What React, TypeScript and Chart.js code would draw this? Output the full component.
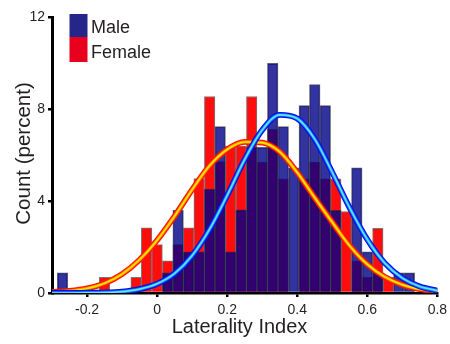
import React, { useEffect, useRef } from 'react';
import { Chart, registerables } from 'chart.js';

Chart.register(...registerables);

// Histogram bins (bin width 0.03), values in percent
const binCenters = [
  -0.27, -0.24, -0.21, -0.18, -0.15, -0.12, -0.09, -0.06, -0.03, 0,
  0.03, 0.06, 0.09, 0.12, 0.15, 0.18, 0.21, 0.24, 0.27, 0.3,
  0.33, 0.36, 0.39, 0.42, 0.45, 0.48, 0.51, 0.54, 0.57, 0.6,
  0.63, 0.66, 0.69, 0.72,
];
const maleValues = [
  0.88, 0, 0, 0, 0, 0, 0, 0, 0, 0,
  0.88, 3.6, 1.79, 1.79, 4.53, 7.25, 1.79, 3.62, 6.35, 6.35,
  10.0, 7.25, 5.45, 8.16, 9.08, 8.16, 3.6, 0, 5.45, 1.79,
  0.88, 0, 0.88, 0.88,
];
const femaleValues = [
  0, 0, 0, 0, 0.68, 0, 0, 0.68, 2.84, 2.11,
  1.4, 2.11, 2.84, 4.98, 8.56, 5.72, 6.4, 6.4, 8.56, 5.7,
  7.13, 4.97, 0, 4.97, 5.7, 4.97, 4.97, 3.55, 1.4, 0.68,
  2.82, 0.68, 0, 0,
];

// Fitted curves, every 0.05
const curveX = [
  -0.3, -0.25, -0.2, -0.15, -0.1, -0.05, 0, 0.05, 0.1, 0.15, 0.2, 0.25,
  0.3, 0.35, 0.4, 0.45, 0.5, 0.55, 0.6, 0.65, 0.7, 0.75, 0.8,
];
const maleFit = [
  0, 0, 0.01, 0.02, 0.06, 0.17, 0.4, 0.85, 1.63, 2.78, 4.25, 5.82,
  7.1, 7.76, 7.6, 6.7, 5.25, 3.7, 2.33, 1.3, 0.65, 0.28, 0.11,
];
const femaleFit = [
  0.04, 0.09, 0.2, 0.42, 0.82, 1.45, 2.3, 3.35, 4.5, 5.55, 6.25, 6.58,
  6.55, 6.15, 5.25, 4.15, 3.08, 2.05, 1.25, 0.7, 0.36, 0.17, 0.08,
];

const xTicks = [-0.2, 0, 0.2, 0.4, 0.6, 0.8];
const yTicks = [0, 4, 8, 12];
const legendLabels = ['Male', 'Female'];
const xTitle = 'Laterality Index';
const yTitle = 'Count (percent)';

const FONT = '"Liberation Sans", Arial, Helvetica, sans-serif';
const TEXT = '#231f20';
const MALE_BAR = 'rgba(0,0,136,0.8)';
const FEMALE_BAR = 'rgb(255,12,12)';

const barPoints = (vals: number[]) =>
  binCenters
    .map((x, i) => ({ x, y: vals[i] }))
    .filter((p) => p.y > 0);
const curvePoints = (vals: number[]) => curveX.map((x, i) => ({ x, y: vals[i] }));

const textPlugin = {
  id: 'texts',
  afterDraw(chart: any) {
    const ctx = chart.ctx as CanvasRenderingContext2D;
    ctx.save();
    // legend
    ctx.fillStyle = '#26268a';
    ctx.fillRect(69.5, 14, 18, 23);
    ctx.fillStyle = '#e8001c';
    ctx.fillRect(69.5, 37, 18, 25);
    ctx.fillStyle = TEXT;
    ctx.font = `18px ${FONT}`;
    ctx.textAlign = 'left';
    ctx.textBaseline = 'alphabetic';
    ctx.fillText(legendLabels[0], 91, 32.5);
    ctx.fillText(legendLabels[1], 91, 57.5);
    // axis titles
    ctx.font = `20px ${FONT}`;
    ctx.textAlign = 'center';
    ctx.fillText(xTitle, 239.5, 333.3);
    ctx.translate(30, 153.5);
    ctx.rotate(-Math.PI / 2);
    ctx.font = `20.5px ${FONT}`;
    ctx.fillText(yTitle, 0, 0);
    ctx.restore();
  },
};

export default function App() {
  const ref = useRef<HTMLCanvasElement | null>(null);
  useEffect(() => {
    if (!ref.current) return;
    const chart = new Chart(ref.current, {
      type: 'bar',
      data: {
        datasets: [
          { type: 'line', data: curvePoints(maleFit), borderColor: '#5be8ff', borderWidth: 1.6, pointRadius: 0, cubicInterpolationMode: 'monotone', order: 0 } as any,
          { type: 'line', data: curvePoints(maleFit), borderColor: '#1f78ff', borderWidth: 3.4, pointRadius: 0, cubicInterpolationMode: 'monotone', order: 1 } as any,
          { type: 'line', data: curvePoints(maleFit), borderColor: '#0610e6', borderWidth: 5.8, pointRadius: 0, cubicInterpolationMode: 'monotone', order: 2 } as any,
          { type: 'line', data: curvePoints(femaleFit), borderColor: '#ffe600', borderWidth: 1.6, pointRadius: 0, cubicInterpolationMode: 'monotone', order: 3 } as any,
          { type: 'line', data: curvePoints(femaleFit), borderColor: '#ff8a00', borderWidth: 3.2, pointRadius: 0, cubicInterpolationMode: 'monotone', order: 4 } as any,
          { type: 'line', data: curvePoints(femaleFit), borderColor: '#ff1500', borderWidth: 5.8, pointRadius: 0, cubicInterpolationMode: 'monotone', order: 5 } as any,
          { type: 'bar', data: barPoints(maleValues), backgroundColor: MALE_BAR, borderColor: 'rgba(40,40,60,0.75)', borderWidth: 1, barPercentage: 1, categoryPercentage: 1, grouped: false, order: 6 } as any,
          { type: 'bar', data: barPoints(femaleValues), backgroundColor: FEMALE_BAR, borderColor: 'rgba(120,120,120,1)', borderWidth: 1, barPercentage: 1, categoryPercentage: 1, grouped: false, order: 7 } as any,
        ],
      },
      options: {
        animation: false,
        responsive: false,
        devicePixelRatio: 1,
        layout: { padding: { top: 17.5, left: 0, right: 0, bottom: 0 } },
        plugins: { legend: { display: false }, tooltip: { enabled: false }, title: { display: false } },
        scales: {
          x: {
            type: 'linear',
            min: -0.3,
            max: 0.8,
            offset: false,
            afterBuildTicks: (s: any) => { s.ticks = xTicks.map((v) => ({ value: v })); },
            afterFit: (s: any) => { s.height = 51; s.paddingLeft = 0; s.paddingRight = 12.6; },
            ticks: {
              autoSkip: false,
              maxRotation: 0,
              padding: 5,
              color: TEXT,
              font: { family: FONT, size: 14 },
              callback: (v: any) => String(Number(v)),
            },
            grid: { display: true, drawOnChartArea: false, drawTicks: true, tickLength: 4, color: '#000', lineWidth: 2.5, offset: false },
            border: { display: true, color: '#000', width: 2.5 },
          },
          y: {
            type: 'linear',
            min: 0,
            max: 12,
            afterBuildTicks: (s: any) => { s.ticks = yTicks.map((v) => ({ value: v })); },
            afterFit: (s: any) => { s.width = 52; },
            ticks: {
              padding: 3,
              color: TEXT,
              font: { family: FONT, size: 14 },
            },
            grid: { display: true, drawOnChartArea: false, drawTicks: true, tickLength: 4, color: '#000', lineWidth: 2.5 },
            border: { display: true, color: '#000', width: 3 },
          },
        },
      } as any,
      plugins: [textPlugin],
    });
    return () => chart.destroy();
  }, []);
  return (
    <div style={{ position: 'fixed', left: 0, top: 0, width: 450, height: 344, background: '#fff' }}>
      <canvas ref={ref} width={450} height={344} style={{ display: 'block', width: 450, height: 344 }} />
    </div>
  );
}
